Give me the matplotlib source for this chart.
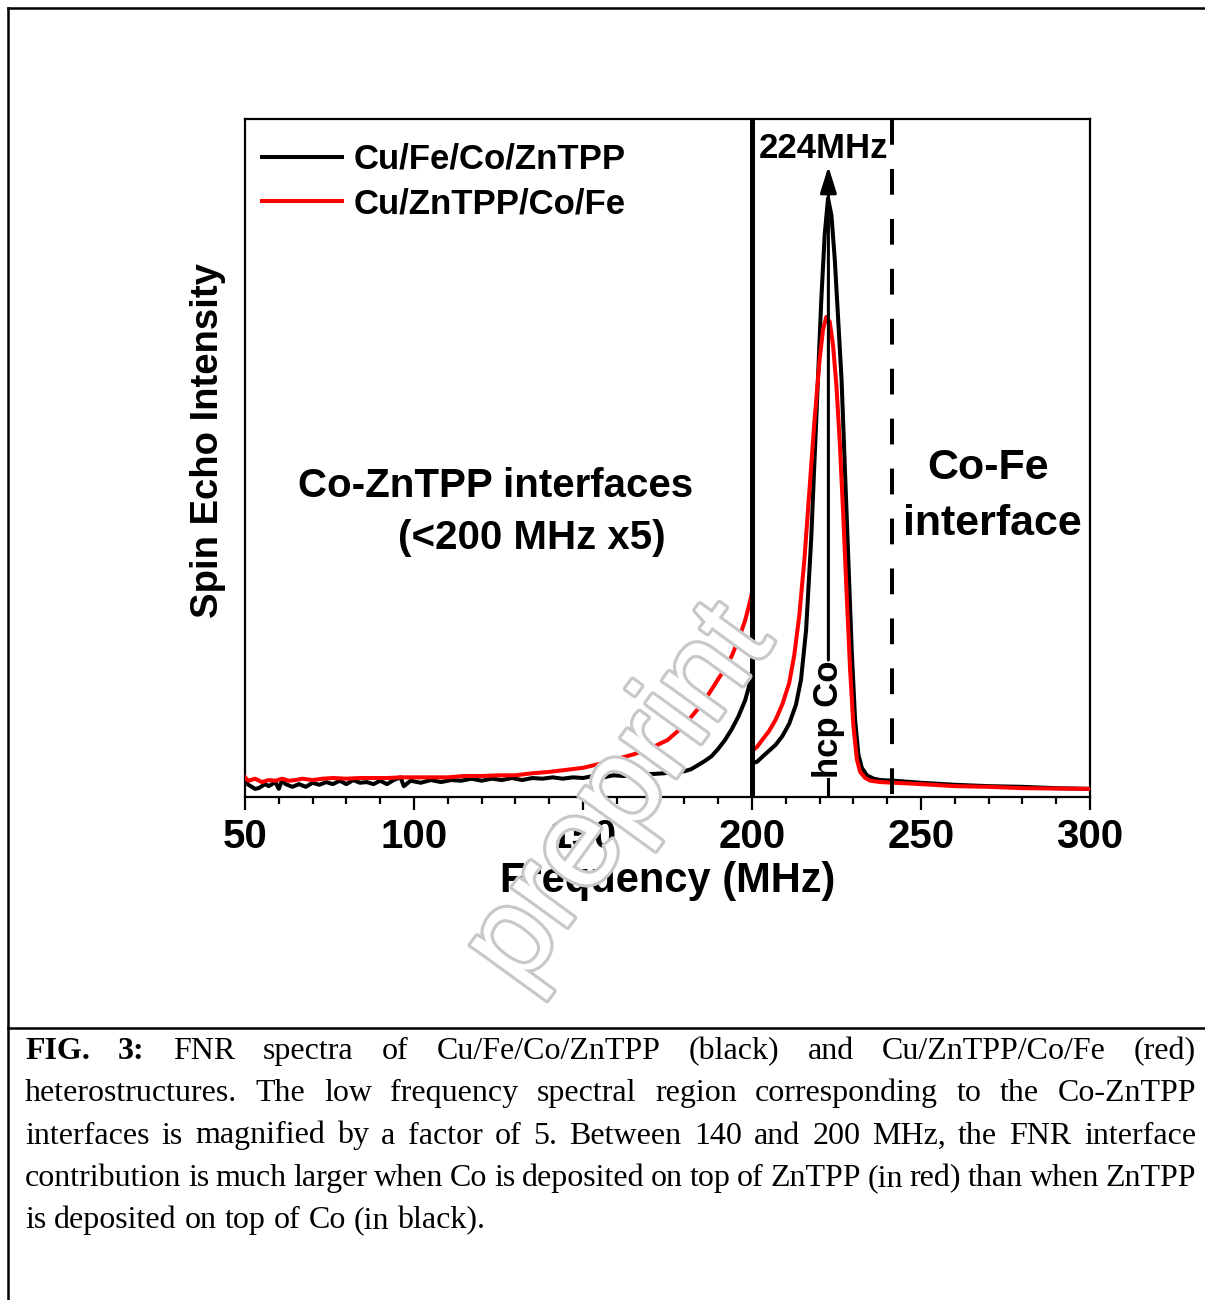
import matplotlib
matplotlib.use('Agg')
import matplotlib.pyplot as plt
import matplotlib.patheffects as pe
from matplotlib.lines import Line2D
from matplotlib.ticker import MultipleLocator
import numpy as np

plt.rcParams['font.family'] = ['Liberation Sans', 'DejaVu Sans']
plt.rcParams['font.weight'] = 'bold'
plt.rcParams['axes.labelweight'] = 'bold'

# --- data (intensity in arbitrary units, axis 0..100) ---
# below 200 MHz the spectra are shown magnified x5
black_low_freq = [50, 51, 53, 54, 56, 57, 59, 60, 61, 62, 64, 66, 68, 70, 72, 74, 76, 78, 80, 82,
                  84, 86, 88, 90, 92, 94, 96, 97, 99, 102, 105, 108, 111, 114, 117, 120, 123, 126, 129, 132,
                  135, 138, 141, 144, 147, 150, 153, 156, 159, 162, 165, 168, 171, 174, 177, 180, 182, 184, 186, 188,
                  190, 192, 194, 196, 198, 199, 200]
black_low_int = [2.4, 1.8, 1.2, 1.3, 1.9, 1.6, 2.2, 1.2, 2.5, 1.9, 1.5, 1.9, 1.5, 2.1, 1.8, 2.2, 1.9, 2.4, 1.9, 2.5,
                 2.1, 2.2, 1.9, 2.4, 1.9, 2.5, 2.9, 1.6, 2.4, 2.1, 2.5, 2.2, 2.5, 2.4, 2.7, 2.4, 2.7, 2.5, 2.8, 2.5,
                 2.8, 2.7, 2.9, 2.7, 2.9, 2.8, 3.1, 2.9, 3.2, 3.1, 3.2, 3.4, 3.4, 3.5, 3.7, 3.8, 4.1, 4.7, 5.3, 6.0,
                 7.1, 8.4, 10.0, 11.9, 14.3, 16.1, 18.4]
black_high_freq = [200.3, 201.5, 203, 205, 207, 209, 211, 213, 214.5, 216, 217.5, 219, 220.5, 221.5, 222.5,
                   223.5, 224.5, 225.5, 226.5, 227.5, 228.5, 229.5, 230.5, 231.5, 232.5, 234, 236, 238, 242,
                   250, 260, 270, 280, 290, 300]
black_high_int = [5.0, 5.2, 5.9, 6.8, 7.7, 9.0, 10.8, 13.6, 17.3, 24.6, 37.9, 55.6, 73.3, 82.9, 88.3,
                  85.8, 79.2, 70.4, 61.5, 48.2, 35.0, 21.7, 11.4, 6.2, 4.3, 3.2, 2.7, 2.5, 2.4,
                  2.1, 1.8, 1.6, 1.5, 1.3, 1.2]

red_low_freq = [50, 51, 53, 55, 57, 59, 61, 63, 65, 67, 70, 73, 76, 80, 84, 88, 92, 96, 100, 105,
                110, 115, 120, 125, 130, 135, 140, 145, 150, 155, 160, 165, 170, 175, 178, 180, 182, 184, 186, 188,
                190, 192, 194, 196, 198, 199, 200]
red_low_int = [2.9, 2.4, 2.7, 2.2, 2.5, 2.4, 2.7, 2.4, 2.5, 2.7, 2.5, 2.7, 2.8, 2.7, 2.8, 2.8, 2.8, 2.9, 2.9, 2.9,
               2.9, 3.1, 3.1, 3.2, 3.2, 3.5, 3.7, 4.0, 4.3, 4.9, 5.6, 6.3, 7.2, 8.4, 9.7, 10.8, 11.8, 13.0, 14.3, 15.8,
               17.4, 18.9, 20.8, 23.2, 26.1, 28.0, 30.1]
red_high_freq = [200.3, 201.5, 203, 205, 207, 209, 211, 212.5, 214, 215.5, 217, 218.5, 220, 221, 222,
                 223, 224, 225, 226, 227, 228, 229, 230, 231, 232, 233.5, 235, 238, 242,
                 250, 260, 270, 280, 290, 300]
red_high_int = [6.9, 7.4, 8.4, 9.7, 11.4, 13.7, 16.8, 20.9, 26.8, 35.0, 45.3, 55.6, 64.5, 68.9, 70.8,
                70.1, 66.5, 60.5, 52.0, 41.5, 30.0, 19.0, 10.5, 5.6, 3.7, 2.8, 2.4, 2.2, 2.1,
                1.9, 1.6, 1.5, 1.3, 1.25, 1.2]

hcp_co_freq = 222.6
cofe_boundary = 241.5
caption_lines = [
    "FIG. 3: FNR spectra of Cu/Fe/Co/ZnTPP (black) and Cu/ZnTPP/Co/Fe (red)",
    "heterostructures. The low frequency spectral region corresponding to the Co-ZnTPP",
    "interfaces is magnified by a factor of 5. Between 140 and 200 MHz, the FNR interface",
    "contribution is much larger when Co is deposited on top of ZnTPP (in red) than when ZnTPP",
    "is deposited on top of Co (in black).",
]

W, H = 1205, 1300
fig = plt.figure(figsize=(W / 100, H / 100), dpi=100)
ax = fig.add_axes([245 / W, 1 - 797 / H, 845 / W, 678 / H])

ax.plot(black_low_freq + black_high_freq, black_low_int + black_high_int,
        color='black', lw=2.9, label='Cu/Fe/Co/ZnTPP', zorder=3)
ax.plot(red_low_freq + red_high_freq, red_low_int + red_high_int,
        color='red', lw=2.9, label='Cu/ZnTPP/Co/Fe', zorder=4)

ax.axvline(200, color='black', lw=3.6, zorder=5)
ax.plot([cofe_boundary, cofe_boundary], [100, 0], color='black', lw=2.9,
        dashes=(6.4, 6.0), zorder=5)

# hcp Co marker line + arrow
ax.plot([hcp_co_freq, hcp_co_freq], [0, 2.6], color='black', lw=2.2, zorder=6)
ax.annotate('', xy=(hcp_co_freq, 93.0), xytext=(hcp_co_freq, 20.2),
            arrowprops=dict(arrowstyle='-|>,head_length=0.8,head_width=0.25', color='black',
                            lw=2.2, mutation_scale=20, shrinkA=0, shrinkB=0), zorder=6)
ax.text(hcp_co_freq, 11.4, 'hcp Co', rotation=90, ha='center', va='center', fontsize=25, zorder=7)
ax.text(221.1, 95.7, '224MHz', ha='center', va='center', fontsize=25, zorder=7)

ax.text(124.0, 45.9, 'Co-ZnTPP interfaces', ha='center', va='center', fontsize=29)
ax.text(134.9, 38.2, '(<200 MHz x5)', ha='center', va='center', fontsize=29)
ax.text(269.8, 48.5, 'Co-Fe', ha='center', va='center', fontsize=31)
ax.text(271.0, 40.3, 'interface', ha='center', va='center', fontsize=31)

ax.set_xlim(50, 300)
ax.set_ylim(0, 100)
ax.set_yticks([])
ax.xaxis.set_major_locator(MultipleLocator(50))
ax.xaxis.set_minor_locator(MultipleLocator(10))
ax.tick_params(axis='x', which='major', direction='out', length=9, width=1.6, labelsize=29, pad=6)
ax.tick_params(axis='x', which='minor', direction='out', length=5, width=1.6)
for s in ax.spines.values():
    s.set_linewidth(1.6)

ax.set_xlabel('Frequency (MHz)', fontsize=30, labelpad=4)
ax.set_ylabel('Spin Echo Intensity', fontsize=27.5)
ax.yaxis.set_label_coords(-0.0225, 0.525)

ax.legend(loc='upper left', bbox_to_anchor=(0.02, 0.965), frameon=False, fontsize=25,
          handlelength=2.3, handletextpad=0.35, labelspacing=0.34, borderaxespad=0, borderpad=0)

# watermark
fig.text(621 / W, 1 - 797 / H, 'preprint', fontsize=92, rotation=54, ha='center', va='center',
         color='white', family='Liberation Sans', weight='normal', zorder=20,
         path_effects=[pe.Stroke(linewidth=4.5, foreground='#c8c8c8'), pe.Normal()])

# page frame
fig.add_artist(Line2D([8.3 / W, 1], [1 - 7.5 / H] * 2, color='black', lw=1.8))
fig.add_artist(Line2D([8.3 / W] * 2, [0, 1 - 7.5 / H], color='black', lw=1.8))
fig.add_artist(Line2D([8.3 / W, 1], [1 - 1027.5 / H] * 2, color='black', lw=1.8))

# justified caption
renderer = fig.canvas.get_renderer()
x0, x1 = 25, 1196
for i, line in enumerate(caption_lines):
    y = 1 - (1059 + 42.25 * i) / H
    words = line.split(' ')
    objs = []
    for j, w in enumerate(words):
        wt = 'bold' if (i == 0 and j < 2) else 'normal'
        objs.append(fig.text(0, y, w, fontsize=23, family='Liberation Serif', weight=wt, va='baseline'))
    widths = [o.get_window_extent(renderer).width for o in objs]
    if i < len(caption_lines) - 1:
        gap = (x1 - x0 - sum(widths)) / (len(words) - 1)
    else:
        gap = 23 * 100 / 72 * 0.25
    x = x0
    for o, wd in zip(objs, widths):
        o.set_x(x / W)
        x += wd + gap

fig.savefig('out.png', dpi=100)
